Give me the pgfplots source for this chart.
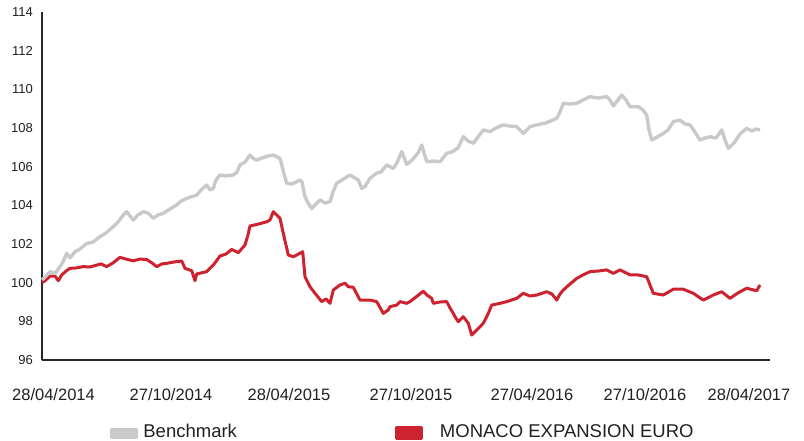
\documentclass[border=0pt]{standalone}
\usepackage{fontspec}
\setmainfont{Liberation Sans}
\usepackage{pgfplots}
\pgfplotsset{compat=1.18}
\definecolor{bench}{RGB}{200,201,203}
\definecolor{fund}{RGB}{205,35,47}
\definecolor{axcol}{RGB}{40,40,40}
\definecolor{txt}{RGB}{35,31,32}
\begin{document}
\begin{tikzpicture}
\begin{axis}[
  scale only axis,
  width=728pt, height=348pt,
  xmin=42, xmax=770, ymin=96, ymax=114,
  ytick={96,98,...,114},
  xtick={53.5,171,289,411,532,645,749},
  xticklabels={28/04/2014,27/10/2014,28/04/2015,27/10/2015,27/04/2016,27/10/2016,28/04/2017},
  axis x line=bottom, axis y line=left,
  axis line style={-, draw=axcol, line width=2pt},
  major tick length=0pt,
  /pgf/number format/assume math mode=true,
  xticklabel style={font=\fontsize{16.5}{18}\selectfont, text=txt, anchor=north, inner sep=0pt, yshift=-28.3pt},
  yticklabel style={font=\fontsize{13}{15}\selectfont, text=txt, anchor=east, inner sep=0pt, xshift=-9pt},
  reverse legend,
  legend columns=2,
  legend style={at={(axis description cs:0,0)}, anchor=north west, xshift=68pt, yshift=-62.3pt,
    draw=none, fill=none, inner sep=0pt, outer sep=0pt,
    font=\fontsize{18.5}{20}\selectfont, text=txt,
    cells={anchor=base west, inner sep=0pt},
    /tikz/every even column/.style={column sep=0pt}},
  clip=false,
]
\addplot[fund, line width=3pt, line join=round,
  legend image code/.code={\fill[fund] (0pt,-0.7pt) rectangle (25pt,10pt); \path (-156pt,0pt) (40pt,0pt);}]
coordinates {
(42,100.00)(45,100.10)(50,100.34)(55,100.34)(58.3,100.10)(61.7,100.40)(66,100.60)(70,100.74)(76,100.76)(83.3,100.83)(90,100.81)(96.7,100.91)(101,100.97)(106.7,100.83)(113,101.02)(120,101.31)(126,101.22)(133.3,101.13)(140,101.22)(146.7,101.20)(152,101.02)(156.7,100.83)(162,100.97)(166.7,101.00)(174,101.07)(181.7,101.12)(185,100.74)(191.7,100.62)(195,100.10)(196.7,100.45)(206.7,100.57)(213.3,100.91)(220,101.38)(226,101.48)(231.7,101.72)(238.3,101.55)(245,101.95)(248,102.47)(250,102.93)(258.3,103.03)(266.7,103.15)(270,103.24)(273.3,103.67)(276.7,103.50)(280,103.33)(283.3,102.55)(288.3,101.43)(293.3,101.34)(300,101.52)(302.7,101.60)(305,100.31)(310,99.79)(315,99.45)(321.7,99.02)(326,99.16)(330,98.93)(333.3,99.62)(340,99.88)(345,99.97)(348.3,99.79)(353.3,99.76)(360,99.10)(366.7,99.10)(370,99.10)(376.7,99.02)(383.3,98.41)(388.3,98.59)(390,98.76)(396.7,98.84)(400,99.02)(406.7,98.93)(410,99.02)(416,99.26)(423.3,99.56)(427,99.36)(431.7,99.19)(433.3,98.93)(440,99.00)(446.7,99.02)(450,98.69)(453.3,98.41)(455,98.24)(458.3,97.98)(463.3,98.24)(468.3,97.90)(471.7,97.29)(476.7,97.55)(480,97.72)(483.3,97.90)(488.3,98.41)(491.7,98.84)(500,98.93)(506.7,99.02)(516.7,99.19)(523.3,99.45)(530,99.31)(536.7,99.36)(546.7,99.53)(552,99.41)(556.7,99.10)(560,99.41)(563.3,99.62)(570,99.93)(576.7,100.22)(583,100.40)(590,100.57)(598,100.60)(606.7,100.66)(613.3,100.48)(620,100.66)(630,100.40)(638,100.40)(646.7,100.31)(650,99.88)(653.3,99.45)(663.3,99.36)(673.3,99.66)(683.3,99.66)(693.3,99.45)(703.3,99.10)(713.3,99.36)(721.7,99.53)(730,99.19)(738,99.47)(746.7,99.71)(756.7,99.58)(760,99.88)
};
\addlegendentry{MONACO EXPANSION EURO}
\addplot[bench, line width=3.4pt, line join=round,
  legend image code/.code={\fill[bench] (0pt,0pt) rectangle (25pt,8.3pt); \path (0pt,0pt) (28pt,0pt);}]
coordinates {
(42,100.14)(46,100.34)(50,100.57)(55,100.48)(60,100.83)(63,101.07)(66.7,101.52)(70,101.28)(75,101.60)(80,101.74)(86.7,102.03)(93,102.10)(100,102.38)(106,102.57)(113.3,102.90)(118,103.14)(123.3,103.50)(126.7,103.67)(130,103.45)(133.3,103.24)(138,103.50)(143.3,103.67)(148,103.60)(153.3,103.33)(158,103.50)(163.3,103.59)(170,103.81)(176.7,104.02)(181,104.22)(186.7,104.36)(196.7,104.53)(201,104.79)(206.7,105.05)(210,104.79)(213.3,104.88)(216,105.31)(220,105.57)(226,105.52)(233.3,105.57)(237,105.72)(240,106.09)(245,106.24)(250,106.60)(253,106.43)(256.7,106.34)(262,106.45)(268,106.55)(273.3,106.60)(280,106.43)(283,105.83)(286.7,105.14)(292,105.10)(300,105.31)(302,105.20)(305,104.45)(308,104.12)(311.7,103.84)(316,104.07)(320,104.28)(325,104.12)(330,104.19)(333,104.69)(336.7,105.14)(342,105.31)(350,105.57)(355,105.41)(358.3,105.31)(361.7,104.88)(365,104.97)(370,105.40)(376.7,105.67)(381,105.72)(386.7,106.09)(393.3,105.91)(396.7,106.17)(401.7,106.78)(406.7,106.12)(412,106.34)(418,106.71)(421.7,107.12)(426.7,106.26)(433,106.29)(440,106.26)(446.7,106.69)(452,106.76)(458,106.97)(463.3,107.55)(468,107.33)(473.3,107.21)(478,107.53)(483.3,107.90)(490,107.81)(496,108.00)(503.3,108.16)(510,108.10)(516.7,108.07)(523.3,107.72)(530,108.07)(536.7,108.16)(546,108.26)(556.7,108.50)(560,108.83)(563.3,109.28)(570,109.24)(576.7,109.28)(583,109.45)(590,109.62)(598,109.55)(606.7,109.62)(610,109.45)(613.3,109.14)(618,109.45)(621.7,109.71)(626,109.45)(630,109.10)(638.3,109.10)(643,108.93)(646.7,108.67)(649,107.90)(651.7,107.38)(657,107.53)(663.3,107.72)(668,107.90)(673.3,108.33)(680,108.41)(685,108.21)(690,108.16)(695,107.79)(700,107.38)(705,107.48)(710,107.55)(716,107.48)(721.7,107.90)(725,107.38)(728.3,106.95)(734,107.22)(740,107.69)(746.7,107.98)(752,107.84)(756,107.95)(760,107.90)
};
\addlegendentry{Benchmark}
\end{axis}
\pgfresetboundingbox
\path[use as bounding box] ([shift={(-42pt,-81pt)}]current axis.south west) rectangle ([shift={(34pt,12pt)}]current axis.north east);
\end{tikzpicture}
\end{document}
